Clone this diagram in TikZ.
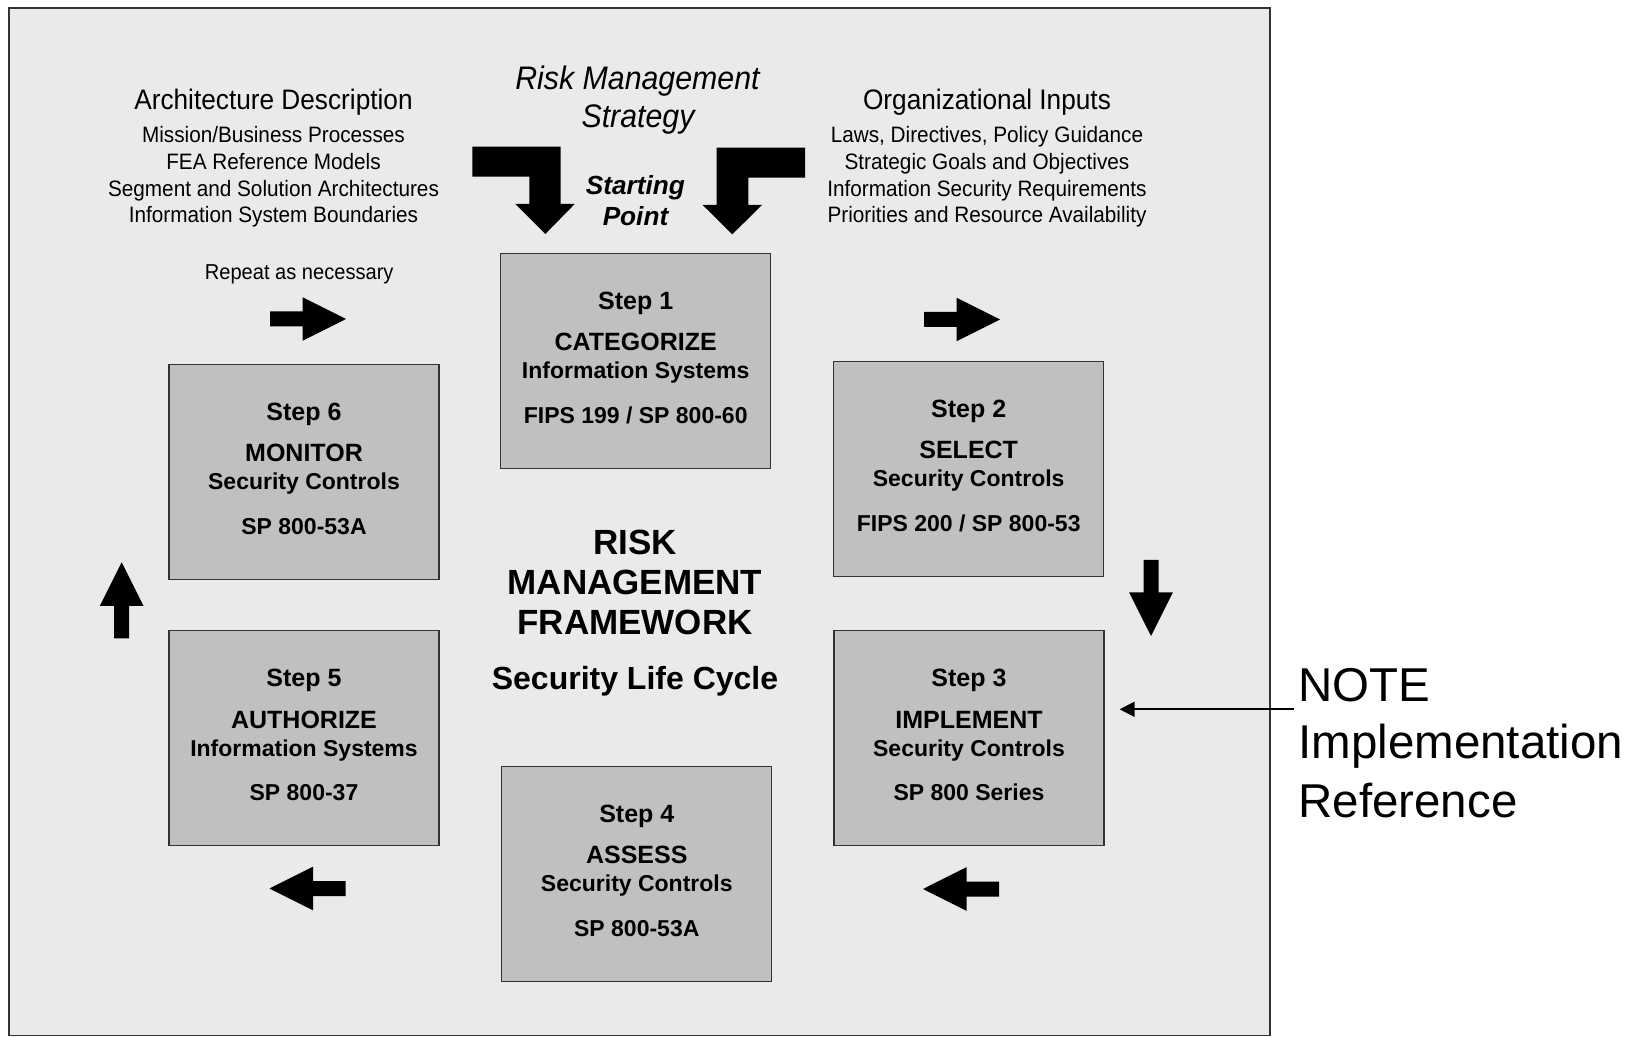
\documentclass[tikz,border=0pt]{standalone}
\usepackage{fontspec}
\setmainfont{Liberation Sans}
\newfontfamily\narrowfont{Liberation Sans}[FakeStretch=0.93]
\usetikzlibrary{calc,arrows.meta}
\definecolor{bgray}{HTML}{EAEAEA}
\definecolor{boxgray}{HTML}{C0C0C0}
\definecolor{edgegray}{HTML}{333333}
\newcommand\rmfstep[5]{%
  \node[headtxt] (#1-a) at ($(#1.north)+(0,56.5)$) {#2};
  \node[headtxt] (#1-b) at ($(#1.north)+(0,98.3)$) {#3};
  \node[subtxt]  (#1-c) at ($(#1.north)+(0,126.2)$) {#4};
  \node[subtxt]  (#1-d) at ($(#1.north)+(0,170.5)$) {#5};
}
\begin{document}
\begin{tikzpicture}[x=0.5pt,y=-0.5pt,
  stepbox/.style={draw=edgegray, line width=0.65pt, fill=boxgray,
    minimum width=135pt, minimum height=107.5pt, inner sep=0pt},
  headtxt/.style={anchor=base, inner sep=0pt, font=\bfseries\fontsize{12.5}{15}\selectfont},
  subtxt/.style={anchor=base, inner sep=0pt, font=\bfseries\fontsize{11.5}{14}\selectfont},
  colhead/.style={anchor=base, inner sep=0pt, font=\narrowfont\fontsize{14.1}{17}\selectfont},
  colline/.style={anchor=base, inner sep=0pt, font=\narrowfont\fontsize{11.15}{13}\selectfont},
  rmstxt/.style={anchor=base, inner sep=0pt, font=\narrowfont\itshape\fontsize{16.3}{19}\selectfont},
  starttxt/.style={anchor=base, inner sep=0pt, font=\bfseries\itshape\fontsize{13.1}{15}\selectfont},
  centertxt/.style={anchor=base, inner sep=0pt, font=\bfseries\fontsize{17.5}{20}\selectfont},
  notetxt/.style={anchor=base west, inner sep=0pt, font=\fontsize{23.75}{28}\selectfont},
  blockarrow/.pic={\fill[black] (0,-7.5) -- (32.5,-7.5) -- (32.5,-21.8) -- (76,0)
      -- (32.5,21.8) -- (32.5,7.5) -- (0,7.5) -- cycle;}
]
\useasboundingbox (0,0) rectangle (1635,1037);
\fill[white] (0,0) rectangle (1635,1037);
\draw[draw=edgegray, fill=bgray, line width=0.7pt] (9,8) rectangle (1270,1035.5);

% step boxes
\node[stepbox] (s1) at (635.7,360.8) {};
\node[stepbox] (s2) at (968.7,468.7) {};
\node[stepbox] (s3) at (969,738.3) {};
\node[stepbox] (s4) at (636.8,873.8) {};
\node[stepbox] (s5) at (304,738.3) {};
\node[stepbox] (s6) at (304,471.8) {};

\rmfstep{s1}{Step 1}{CATEGORIZE}{Information Systems}{FIPS 199 / SP 800-60}
\rmfstep{s2}{Step 2}{SELECT}{Security Controls}{FIPS 200 / SP 800-53}
\rmfstep{s3}{Step 3}{IMPLEMENT}{Security Controls}{SP 800 Series}
\rmfstep{s4}{Step 4}{ASSESS}{Security Controls}{SP 800-53A}
\rmfstep{s5}{Step 5}{AUTHORIZE}{Information Systems}{SP 800-37}
\rmfstep{s6}{Step 6}{MONITOR}{Security Controls}{SP 800-53A}

% centre title
\node[centertxt] (c1) at (635,554.5) {RISK};
\node[centertxt] (c2) at (635,595) {MANAGEMENT};
\node[centertxt] (c3) at (635,634.5) {FRAMEWORK};
\node[centertxt, font=\bfseries\fontsize{16}{19}\selectfont] (c4) at (635,689.5) {Security Life Cycle};

% top columns
\node[colhead] (archh) at (273.5,110) {Architecture Description};
\foreach \t [count=\i] in {Mission/Business Processes, FEA Reference Models,
    Segment and Solution Architectures, Information System Boundaries}
  \node[colline] (arch\i) at (273.5,{142.7+26.7*(\i-1)}) {\t};
\node[colhead] (orgh) at (987,110) {Organizational Inputs};
\foreach \t [count=\i] in {{Laws, Directives, Policy Guidance}, Strategic Goals and Objectives,
    Information Security Requirements, Priorities and Resource Availability}
  \node[colline] (org\i) at (987,{142.7+26.7*(\i-1)}) {\t};
\node[colline, font=\narrowfont\fontsize{10.8}{13}\selectfont] (rep) at (299.2,279.3) {Repeat as necessary};

\node[rmstxt] (rms1) at (637.5,89.3) {Risk Management};
\node[rmstxt] (rms2) at (638,127.7) {Strategy};
\node[starttxt] (sp1) at (635.4,195) {Starting};
\node[starttxt] (sp2) at (635.5,225.7) {Point};

% L-shaped input arrows
\fill[black] (472.3,146.7) -- (560.7,146.7) -- (560.7,204) -- (574.7,204) -- (545.3,234)
  -- (515.3,204) -- (529.3,204) -- (529.3,176.7) -- (472.3,176.7) -- cycle;
\fill[black] (805,147.7) -- (716.7,147.7) -- (716.7,205) -- (702.7,205) -- (732.3,234.3)
  -- (762,205) -- (748.3,205) -- (748.3,177.7) -- (805,177.7) -- cycle;

% cycle block arrows
\pic at (270,319) {blockarrow};
\pic at (924,319.5) {blockarrow};
\pic[rotate=-90] at (1151,560) {blockarrow};
\pic[rotate=180] at (999,889) {blockarrow};
\pic[rotate=180] at (345.5,888.5) {blockarrow};
\pic[rotate=90] at (121.7,638.3) {blockarrow};

% note
\node[notetxt] (n1) at (1298,701.7) {NOTE};
\node[notetxt] (n2) at (1298,759) {Implementation};
\node[notetxt] (n3) at (1298,817.5) {Reference};
\coordinate (nstart) at (1294.3,709.3);
\coordinate (nend) at ($(s3.east)+(15,-29)$);
\draw[line width=1pt, -{Triangle[length=7.5pt,width=7.5pt]}] (nstart) -- (nend);
\end{tikzpicture}
\end{document}
